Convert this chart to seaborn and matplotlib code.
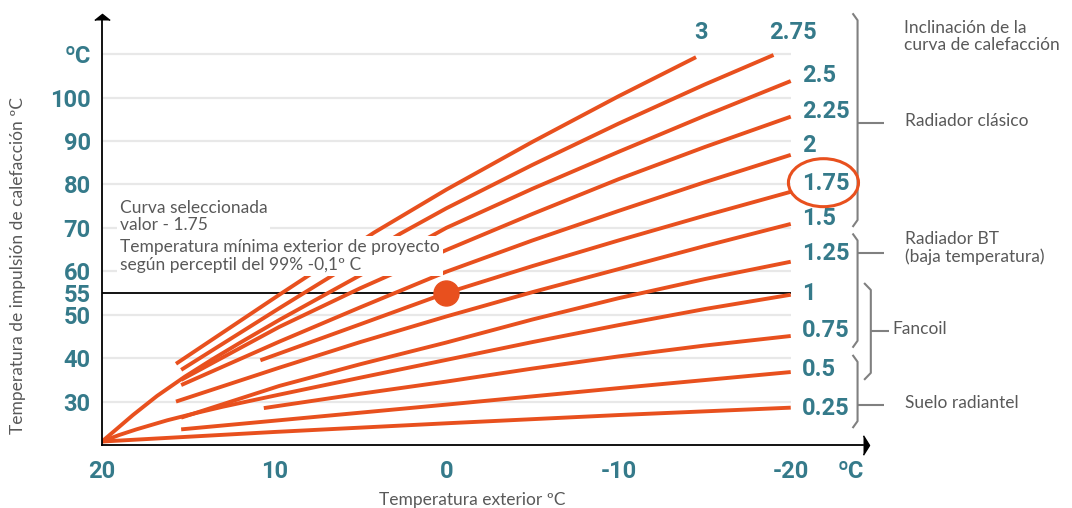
import pandas as pd
import matplotlib
matplotlib.use('Agg')
import matplotlib.pyplot as plt
from matplotlib.patches import Ellipse
import seaborn as sns

# ---- values ----
# heating curves: outdoor temp (x) -> supply temp (y), one pair per slope
x_300 = [15.7, 9.7, 4.2, 0, -5, -10, -14.5]
y_300 = [38.7, 54.6, 68.9, 78.8, 89.8, 100.3, 109.3]
x_275 = [15.4, 9.7, 2.7, 0, -5, -10, -15, -19]
y_275 = [37.3, 51.5, 68.6, 74.5, 84.5, 94.0, 103.0, 109.8]
x_250 = [20, 19.2, 18.2, 16.8, 15.2, 13.6, 12, 9.7, 5.5, 0, -5, -10, -15, -20]
y_250 = [20.8, 23.5, 26.9, 31.3, 35.7, 39.7, 43.5, 48.8, 58.0, 70.0, 79.0, 87.5, 95.8, 103.8]
x_225 = [15.4, 9.7, 5, 0, -5, -10, -15, -20]
y_225 = [35.0, 47.2, 56.1, 64.9, 73.2, 81.2, 88.6, 95.6]
x_200 = [15.4, 9.7, 5, 0, -5, -10, -15, -20]
y_200 = [33.8, 43.8, 51.7, 59.9, 67.1, 73.9, 80.5, 86.8]
x_175 = [10.8, 5, 0, -5, -10, -15, -20]
y_175 = [39.5, 47.8, 55.0, 61.2, 67.1, 72.8, 78.3]
x_150 = [15.7, 9.7, 5, 0, -5, -10, -15, -20]
y_150 = [30.0, 37.8, 43.7, 49.6, 55.2, 60.5, 65.8, 70.9]
x_125 = [15.4, 9.7, 5, 0, -5, -10, -15, -20]
y_125 = [26.3, 33.6, 38.6, 43.6, 48.9, 53.8, 58.2, 62.2]
x_100 = [20, 19, 18, 16.2, 14.5, 13, 9.7, 5, 0, -5, -10, -15, -20]
y_100 = [20.8, 22.3, 23.6, 25.7, 27.4, 28.8, 31.6, 35.5, 39.6, 43.7, 47.6, 51.3, 54.6]
x_075 = [10.6, 5, 0, -5, -10, -15, -20]
y_075 = [28.5, 31.8, 34.6, 37.6, 40.4, 42.9, 45.1]
x_050 = [15.4, 9.7, 0, -10, -20]
y_050 = [23.6, 25.7, 29.3, 33.1, 36.8]
x_025 = [20, 10, 0, -10, -20]
y_025 = [20.8, 23.0, 25.0, 26.9, 28.6]

curve_names = ['3', '2.75', '2.5', '2.25', '2', '1.75', '1.5', '1.25', '1', '0.75', '0.5', '0.25']
curve_x = [x_300, x_275, x_250, x_225, x_200, x_175, x_150, x_125, x_100, x_075, x_050, x_025]
curve_y = [y_300, y_275, y_250, y_225, y_200, y_175, y_150, y_125, y_100, y_075, y_050, y_025]

# where each slope label sits (y value of the label)
label_y = [114.9, 114.9, 105.0, 96.7, 88.9, 80.1, 72.1, 64.0, 54.8, 46.3, 37.3, 28.3]

# selected point: curve 1.75 at outdoor 0 -> 55
sel_x = 0
sel_y = 55

x_ticks = [20, 10, 0, -10, -20, -23.5]
x_ticklabels = ['20', '10', '0', '-10', '-20', 'ºC']
y_ticks = [30, 40, 50, 55, 60, 70, 80, 90, 100, 110]
y_ticklabels = ['30', '40', '50', '55', '60', '70', '80', '90', '100', 'ºC']
grid_levels = [30, 40, 50, 60, 70, 80, 90, 100, 110]

# braces on the right: group, top, bottom, tip (supply temp)
brace_labels = ['Radiador clásico', 'Radiador BT\n(baja temperatura)', 'Fancoil', 'Suelo radiantel']
brace_top = [119.4, 68.7, 57.3, 40.75]
brace_bottom = [70.2, 42.4, 35.0, 23.9]
brace_tip = [94.1, 64.2, 46.2, 29.2]
brace_label_y = [94.6, 65.3, 46.6, 29.6]

# ---- style ----
ORANGE = '#e8501e'
TEAL = '#357a8a'
GRAY = '#595959'
BRACE = '#808080'
NUMFONT = ['Roboto', 'DejaVu Sans']
NUMSIZE = 17

sns.set_theme(style='white')
plt.rcParams['font.family'] = ['Lato', 'DejaVu Sans']
plt.rcParams['lines.solid_capstyle'] = 'butt'

rows = []
for name, xs, ys in zip(curve_names, curve_x, curve_y):
    for x, y in zip(xs, ys):
        rows.append((name, x, y))
df = pd.DataFrame(rows, columns=['curva', 't_ext', 't_imp'])

fig = plt.figure(figsize=(10.72, 5.08), dpi=100)
ax = fig.add_axes([0.0951, 0.124, 0.710, 0.837])

ax.hlines(grid_levels, 20, -20, color='#e8e8e8', lw=1.6, zorder=0)
ax.hlines(sel_y, 20, -20, color='black', lw=1.3, zorder=1)

sns.lineplot(data=df, x='t_ext', y='t_imp', hue='curva',
             palette={n: ORANGE for n in curve_names}, sort=False,
             estimator=None, legend=False, lw=2.8, ax=ax, zorder=2)

ax.plot(sel_x, sel_y, 'o', ms=18, color=ORANGE, zorder=4)

ax.set_xlim(20, -24.2)
ax.set_ylim(20, 117.9)
ax.set_xticks(x_ticks)
ax.set_xticklabels(x_ticklabels)
ax.set_yticks(y_ticks)
ax.set_yticklabels(y_ticklabels)
ax.tick_params(axis='both', length=0, labelsize=NUMSIZE, labelcolor=TEAL)
ax.tick_params(axis='x', pad=11)
ax.tick_params(axis='y', pad=8)
for lbl in ax.get_xticklabels() + ax.get_yticklabels():
    lbl.set_fontweight('bold')
    lbl.set_fontfamily(NUMFONT)
ax.set_xlabel('')
ax.set_ylabel('')

for s in ['top', 'right']:
    ax.spines[s].set_visible(False)
for s in ['left', 'bottom']:
    ax.spines[s].set_color('black')
    ax.spines[s].set_linewidth(1.3)

# arrow heads on the axes
ax.plot(1, 0, marker=[(0, -1.6), (1, 0), (0, 1.6)], ms=14, color='black',
        transform=ax.transAxes, clip_on=False)
ax.plot(0, 1, marker=[(-1.25, 0), (0, 1), (1.25, 0)], ms=11, color='black',
        transform=ax.transAxes, clip_on=False)

# slope labels
for name, ly in zip(curve_names, label_y):
    if name == '3':
        lx, ha = -14.8, 'center'
    elif name == '2.75':
        lx, ha = -20.1, 'center'
    else:
        lx, ha = -20.64, 'left'
    ax.text(lx, ly, name, ha=ha, va='center', color=TEAL, fontsize=NUMSIZE,
            fontweight='bold', family=NUMFONT)

ax.add_patch(Ellipse((-21.9, 80.4), width=4.07, height=11.05, fill=False,
                     edgecolor=ORANGE, lw=2.2, clip_on=False, zorder=5))

# annotation text
ax.text(18.95, 72.6, 'Curva seleccionada\nvalor - 1.75', ha='left', va='center',
        color=GRAY, fontsize=12.5, linespacing=1.13, zorder=6,
        bbox=dict(facecolor='white', edgecolor='none', pad=2))
ax.text(18.95, 63.5, 'Temperatura mínima exterior de proyecto\nsegún perceptil del 99% -0,1º C',
        ha='left', va='center', color=GRAY, fontsize=12.5, linespacing=1.13, zorder=6,
        bbox=dict(facecolor='white', edgecolor='none', pad=2))

# braces
for lab, top, bot, tip, ly in zip(brace_labels, brace_top, brace_bottom, brace_tip, brace_label_y):
    if lab == 'Fancoil':
        xv, xc, xt, xl = -24.65, -24.26, -25.70, -25.93
    else:
        xv, xc, xt, xl = -23.88, -23.59, -25.42, -26.62
    d = 1.6
    ax.plot([xc, xv, xv, xc], [top, top - d, bot + d, bot], color=BRACE, lw=1.5,
            clip_on=False, solid_joinstyle='round')
    ax.plot([xv, xt], [tip, tip], color=BRACE, lw=1.5, clip_on=False)
    ax.text(xl, ly, lab, ha='left', va='center', color=GRAY, fontsize=12.5, linespacing=1.08)

ax.text(-26.57, 114.1, 'Inclinación de la\ncurva de calefacción', ha='left', va='center',
        color=GRAY, fontsize=12.5, linespacing=1.08)

fig.text(18 / 1072, 1 - 266 / 508, 'Temperatura de impulsión de calefacción ºC',
         rotation=90, ha='center', va='center', color=GRAY, fontsize=12.5)
fig.text(472 / 1072, 1 - 500 / 508, 'Temperatura exterior ºC', ha='center', va='center',
         color=GRAY, fontsize=12.5)

fig.savefig('out.png', dpi=100)
